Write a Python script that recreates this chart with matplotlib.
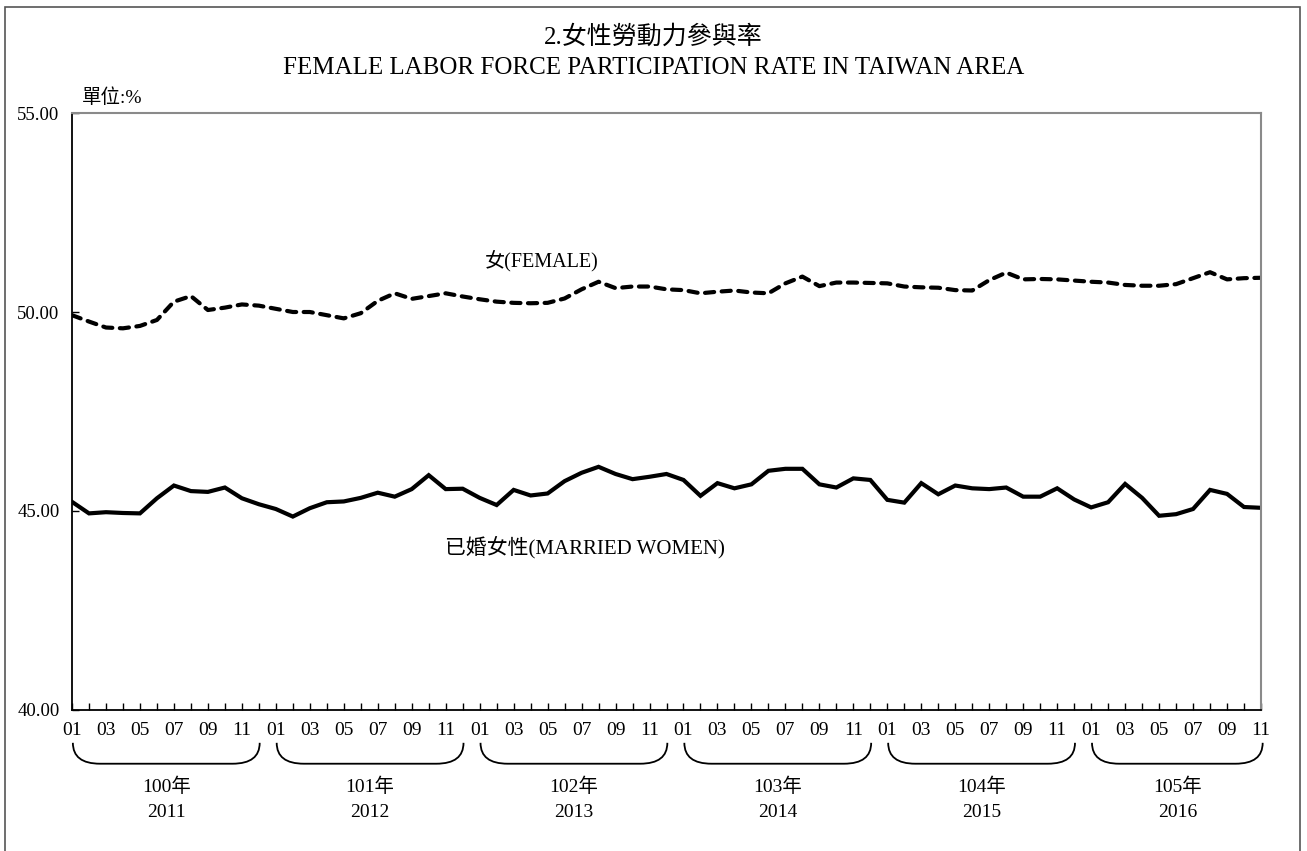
import numpy as np
import matplotlib
matplotlib.use('Agg')
import matplotlib.pyplot as plt
from matplotlib.path import Path
from matplotlib.patches import PathPatch, Rectangle
import matplotlib.transforms as mtransforms

plt.rcParams['font.family'] = ['Liberation Serif', 'Noto Sans CJK TC']

# monthly values, 2011-01 .. 2016-11
female = [49.92, 49.76, 49.61, 49.59, 49.65, 49.80, 50.26, 50.40, 50.05, 50.11, 50.19, 50.16,
          50.08, 50.00, 50.00, 49.92, 49.84, 49.97, 50.28, 50.47, 50.33, 50.40, 50.47, 50.39,
          50.32, 50.26, 50.23, 50.22, 50.23, 50.34, 50.57, 50.76, 50.60, 50.64, 50.64, 50.57,
          50.55, 50.47, 50.51, 50.54, 50.49, 50.47, 50.72, 50.89, 50.65, 50.74, 50.74, 50.73,
          50.72, 50.64, 50.62, 50.61, 50.55, 50.54, 50.80, 50.99, 50.82, 50.83, 50.82, 50.79,
          50.76, 50.74, 50.68, 50.66, 50.66, 50.70, 50.85, 51.00, 50.82, 50.85, 50.86]
married = [45.23, 44.94, 44.97, 44.95, 44.94, 45.32, 45.64, 45.50, 45.48, 45.59, 45.32, 45.17,
           45.05, 44.86, 45.07, 45.22, 45.24, 45.33, 45.46, 45.36, 45.55, 45.90, 45.55, 45.56,
           45.33, 45.15, 45.53, 45.39, 45.44, 45.75, 45.96, 46.11, 45.93, 45.80, 45.86, 45.93,
           45.78, 45.38, 45.70, 45.57, 45.67, 46.01, 46.06, 46.06, 45.67, 45.59, 45.82, 45.78,
           45.28, 45.21, 45.70, 45.42, 45.64, 45.57, 45.55, 45.59, 45.36, 45.36, 45.57, 45.29,
           45.09, 45.22, 45.68, 45.33, 44.88, 44.92, 45.05, 45.53, 45.43, 45.10, 45.08]
roc_years = ['100年', '101年', '102年', '103年', '104年', '105年']
ad_years = ['2011', '2012', '2013', '2014', '2015', '2016']

n = len(female)
x = np.arange(n)
month_labels = ['%02d' % (i % 12 + 1) if i % 2 == 0 else '' for i in range(n)]

fig = plt.figure(figsize=(13.07, 8.51), dpi=100)
ax = fig.add_axes([0.0551, 0.1657, 0.9097, 0.7015])

ax.plot(x, female, color='black', lw=3, dashes=(2.2, 1.8), dash_capstyle='round')
ax.plot(x, married, color='black', lw=3, solid_joinstyle='miter')

ax.set_xlim(0, n - 1)
ax.set_ylim(40, 55)
ax.set_yticks([40, 45, 50, 55])
ax.set_yticklabels(['%.2f' % v for v in [40, 45, 50, 55]])
ax.set_xticks(x)
ax.set_xticklabels(month_labels)
ax.tick_params(axis='x', direction='in', length=5, width=1, labelsize=14, pad=9)
ax.tick_params(axis='y', direction='in', length=5, width=1, labelsize=13.5, pad=9)
for s in ['left', 'bottom']:
    ax.spines[s].set_color('black')
    ax.spines[s].set_linewidth(1.3)
for s in ['top', 'right']:
    ax.spines[s].set_color('#8a8a8a')
    ax.spines[s].set_linewidth(1.5)

ax.text(0.395, 0.753, '女(FEMALE)', transform=ax.transAxes, ha='center', va='center', fontsize=14.5)
ax.text(0.431, 0.272, '已婚女性(MARRIED WOMEN)', transform=ax.transAxes, ha='center', va='center', fontsize=15)

# year brackets below the month labels
trans = mtransforms.blended_transform_factory(ax.transData, ax.transAxes)
ytop, ybot = -0.055, -0.090
for k in range(len(roc_years)):
    x0 = 12 * k + 0.05
    x1 = min(12 * k + 11.05, n - 0.9)
    r = 1.6
    verts = [(x0, ytop), (x0, ybot), (x0 + r, ybot),
             (x1 - r, ybot),
             (x1, ybot), (x1, ytop)]
    codes = [Path.MOVETO, Path.CURVE3, Path.CURVE3, Path.LINETO, Path.CURVE3, Path.CURVE3]
    ax.add_patch(PathPatch(Path(verts, codes), transform=trans, fill=False,
                           lw=1.3, color='black', clip_on=False))
    xm = (x0 + x1) / 2
    ax.text(xm, -0.128, roc_years[k], transform=trans, ha='center', va='center', fontsize=14)
    ax.text(xm, -0.172, ad_years[k], transform=trans, ha='center', va='center', fontsize=14)

fig.text(0.5, 0.9565, '2.女性勞動力參與率', ha='center', va='center', fontsize=18)
fig.text(0.5, 0.920, 'FEMALE LABOR FORCE PARTICIPATION RATE IN TAIWAN AREA',
         ha='center', va='center', fontsize=18)
fig.text(82 / 1307, 1 - 98 / 851, '單位:%', ha='left', va='center', fontsize=14)

fig.patches.append(Rectangle((0.0038, -0.01), 0.9909, 1.002, transform=fig.transFigure,
                             fill=False, edgecolor='#555555', lw=1.2))

fig.savefig('out.png', dpi=100)
